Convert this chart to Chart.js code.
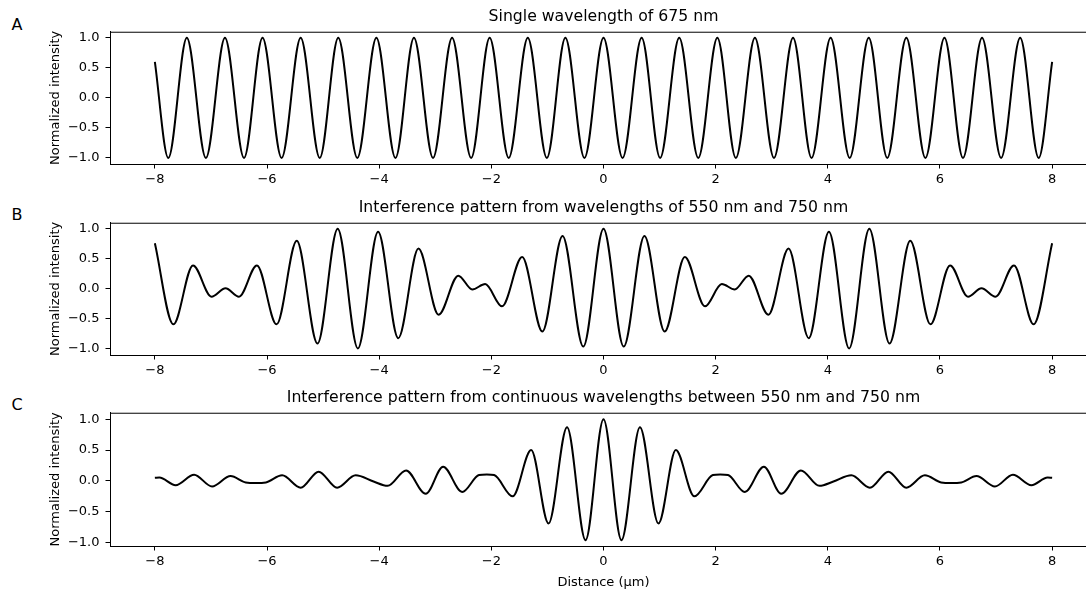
<!DOCTYPE html>
<html>
<head>
<meta charset="utf-8">
<script src="https://cdn.jsdelivr.net/npm/chart.js@4"></script>
<style>
  html, body { margin: 0; padding: 0; background: #fff; }
  body { width: 1086px; height: 589px; overflow: hidden; position: relative; font-family: "DejaVu Sans", sans-serif; }
  canvas { position: absolute; left: 0; }
  .tag { position: absolute; left: 11.5px; font-size: 16px; line-height: 16px; color: #000; }
</style>
</head>
<body>
<div class="tag" style="top:17px">A</div>
<div class="tag" style="top:207px">B</div>
<div class="tag" style="top:397px">C</div>
<canvas id="chartA" width="1097" height="190" style="top:0px"></canvas>
<canvas id="chartB" width="1097" height="190" style="top:190.6px"></canvas>
<canvas id="chartC" width="1097" height="213" style="top:380.6px"></canvas>
<script>
// extrema (x in um, normalized intensity)
const xA = [-8.00, -7.76, -7.43, -7.09, -6.75, -6.41, -6.08, -5.74, -5.40, -5.06, -4.73, -4.39, -4.05, -3.71, -3.38, -3.04, -2.70, -2.36, -2.03, -1.69, -1.35, -1.01, -0.68, -0.34, 0,
            0.34, 0.68, 1.01, 1.35, 1.69, 2.03, 2.36, 2.70, 3.04, 3.38, 3.71, 4.05, 4.39, 4.73, 5.06, 5.40, 5.74, 6.08, 6.41, 6.75, 7.09, 7.43, 7.76, 8.00];
const yA = [0.60, -1, 1, -1, 1, -1, 1, -1, 1, -1, 1, -1, 1, -1, 1, -1, 1, -1, 1, -1, 1, -1, 1, -1, 1,
            -1, 1, -1, 1, -1, 1, -1, 1, -1, 1, -1, 1, -1, 1, -1, 1, -1, 1, -1, 1, -1, 1, -1, 0.60];

const xB = [-8.00, -7.67, -7.32, -6.99, -6.74, -6.50, -6.18, -5.83, -5.47, -5.10, -4.74, -4.38, -4.02, -3.66, -3.30, -2.94, -2.59, -2.34, -2.11, -1.81, -1.45, -1.09, -0.73, -0.36, 0,
            0.36, 0.73, 1.09, 1.45, 1.81, 2.11, 2.34, 2.59, 2.94, 3.30, 3.66, 4.02, 4.38, 4.74, 5.10, 5.47, 5.83, 6.18, 6.50, 6.74, 6.99, 7.32, 7.67, 8.00];
const yB = [0.76, -0.59, 0.39, -0.13, 0.01, -0.13, 0.39, -0.59, 0.80, -0.91, 1.00, -0.99, 0.95, -0.82, 0.67, -0.43, 0.22, -0.01, 0.08, -0.29, 0.53, -0.71, 0.88, -0.96, 1.00,
            -0.96, 0.88, -0.71, 0.53, -0.29, 0.08, -0.01, 0.22, -0.43, 0.67, -0.82, 0.95, -0.99, 1.00, -0.91, 0.80, -0.59, 0.39, -0.13, 0.01, -0.13, 0.39, -0.59, 0.76];

const xC = [-8.00, -7.92, -7.63, -7.30, -6.98, -6.65, -6.38, -6.20, -6.02, -5.73, -5.40, -5.08, -4.75, -4.42, -4.10, -3.85, -3.52, -3.17, -2.86, -2.52, -2.22, -2.08, -1.95, -1.62, -1.29, -0.98, -0.65, -0.32, 0,
            0.32, 0.65, 0.98, 1.29, 1.62, 1.95, 2.08, 2.22, 2.52, 2.86, 3.17, 3.52, 3.85, 4.10, 4.42, 4.75, 5.08, 5.40, 5.73, 6.02, 6.20, 6.38, 6.65, 6.98, 7.30, 7.63, 7.92, 8.00];
const yC = [0.05, 0.055, -0.07, 0.10, -0.09, 0.08, -0.025, -0.035, -0.025, 0.09, -0.11, 0.15, -0.11, 0.09, -0.01, -0.08, 0.17, -0.21, 0.23, -0.18, 0.095, 0.105, 0.095, -0.25, 0.50, -0.69, 0.87, -0.96, 1.00,
            -0.96, 0.87, -0.69, 0.50, -0.25, 0.095, 0.105, 0.095, -0.18, 0.23, -0.21, 0.17, -0.08, -0.01, 0.09, -0.11, 0.15, -0.11, 0.09, -0.025, -0.035, -0.025, 0.08, -0.09, 0.10, -0.07, 0.055, 0.05];

const xTicks = [-8, -6, -4, -2, 0, 2, 4, 6, 8];
const yTicks = [-1.0, -0.5, 0.0, 0.5, 1.0];

const titles = {
    A: 'Single wavelength of 675 nm',
    B: 'Interference pattern from wavelengths of 550 nm and 750 nm',
    C: 'Interference pattern from continuous wavelengths between 550 nm and 750 nm'
};

const font = 'DejaVu Sans';
const minus = s => s.replace('-', '\u2212');

// top spine (matplotlib-style box)
const framePlugin = {
    id: 'frame',
    afterDraw(chart) {
        const a = chart.chartArea, ctx = chart.ctx;
        ctx.save();
        ctx.strokeStyle = '#000';
        ctx.lineWidth = 1;
        ctx.beginPath();
        ctx.moveTo(a.left, a.top + 0.5);
        ctx.lineTo(a.right, a.top + 0.5);
        ctx.stroke();
        ctx.restore();
    }
};

function makePanel(id, xs, ys, title, yMin, yMax, xLabel) {
    const points = xs.map((x, i) => ({ x: x, y: ys[i] }));
    new Chart(document.getElementById(id), {
        type: 'line',
        data: {
            datasets: [{
                data: points,
                borderColor: '#000',
                borderWidth: 2,
                pointRadius: 0,
                fill: false,
                cubicInterpolationMode: 'monotone'
            }]
        },
        options: {
            responsive: false,
            animation: false,
            devicePixelRatio: 1,
            layout: { padding: { left: 48, right: 0, top: 0, bottom: 0 } },
            plugins: {
                legend: { display: false },
                tooltip: { enabled: false },
                title: {
                    display: true,
                    text: title,
                    fullSize: false,
                    color: '#000',
                    font: { family: font, size: 15.7, weight: 'normal', lineHeight: 1.2 },
                    padding: { top: 7.5, bottom: 5.4 }
                }
            },
            scales: {
                x: {
                    type: 'linear',
                    min: -8.8,
                    max: 8.8,
                    afterBuildTicks: s => { s.ticks = xTicks.map(v => ({ value: v })); },
                    afterFit: s => { s.height = xLabel ? 48 : 26; },
                    grid: { drawOnChartArea: false, drawTicks: true, tickLength: 4.5, tickColor: '#000', tickWidth: 1 },
                    border: { display: true, color: '#000', width: 1 },
                    ticks: {
                        color: '#000',
                        padding: 3,
                        maxRotation: 0,
                        font: { family: font, size: 13 },
                        callback: v => minus(String(v))
                    },
                    title: {
                        display: !!xLabel,
                        text: xLabel || '',
                        color: '#000',
                        font: { family: font, size: 13 },
                        padding: { top: 0, bottom: 4 }
                    }
                },
                y: {
                    min: yMin,
                    max: yMax,
                    afterBuildTicks: s => { s.ticks = yTicks.map(v => ({ value: v })); },
                    afterFit: s => { s.width = 62; },
                    grid: { drawOnChartArea: false, drawTicks: true, tickLength: 4.5, tickColor: '#000', tickWidth: 1 },
                    border: { display: true, color: '#000', width: 1 },
                    ticks: {
                        color: '#000',
                        padding: 6,
                        font: { family: font, size: 13 },
                        callback: v => minus(Number(v).toFixed(1))
                    },
                    title: {
                        display: true,
                        text: 'Normalized intensity',
                        color: '#000',
                        font: { family: font, size: 13 },
                        padding: { top: 0, bottom: 0 }
                    }
                }
            }
        },
        plugins: [framePlugin]
    });
}

makePanel('chartA', xA, yA, titles.A, -1.1, 1.1, null);
makePanel('chartB', xB, yB, titles.B, -1.1, 1.1, null);
makePanel('chartC', xC, yC, titles.C, -1.055, 1.105, 'Distance (\u03bcm)');
</script>
</body>
</html>
